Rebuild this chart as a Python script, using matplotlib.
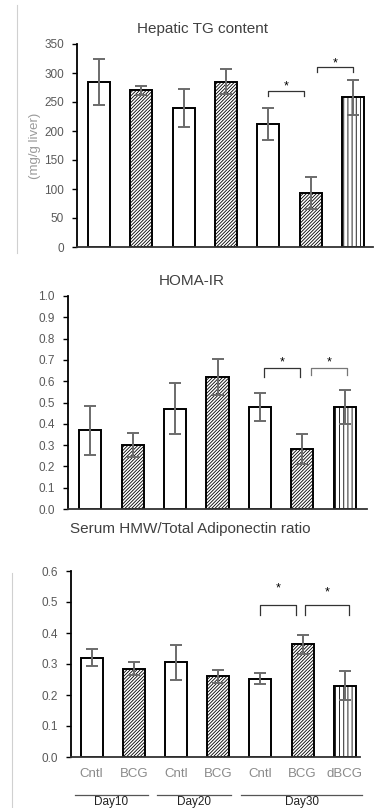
import matplotlib
matplotlib.use("Agg")
import matplotlib.pyplot as plt
from matplotlib.lines import Line2D

plt.rcParams['font.family'] = ['Liberation Sans', 'DejaVu Sans']
plt.rcParams['hatch.linewidth'] = 0.6

categories = ["Cntl", "BCG", "Cntl", "BCG", "Cntl", "BCG", "dBCG"]
groups = ["Day10", "Day20", "Day30"]
kinds = ["cntl", "bcg", "cntl", "bcg", "cntl", "bcg", "dbcg"]

tg_vals = [285, 270, 240, 285, 212, 93, 258]
tg_err = [40, 8, 33, 22, 27, 28, 30]

homa_vals = [0.37, 0.30, 0.47, 0.62, 0.48, 0.28, 0.48]
homa_err = [0.115, 0.055, 0.12, 0.085, 0.065, 0.07, 0.08]

adipo_vals = [0.32, 0.285, 0.305, 0.26, 0.252, 0.363, 0.23]
adipo_err = [0.027, 0.022, 0.055, 0.02, 0.018, 0.03, 0.047]

W, H = 374, 808
fig = plt.figure(figsize=(W / 100, H / 100), dpi=100)

def box(l, r, t, b):
    return [l / W, 1 - b / H, (r - l) / W, (b - t) / H]

hatch_map = {"cntl": None, "bcg": "//////////", "dbcg": "||||"}
tick_color = "#595959"
err_color = "#6b6b6b"

def panel(rect, vals, errs, ylim, yticks, fmt, xlim, title, title_y):
    ax = fig.add_axes(box(*rect))
    x = list(range(len(vals)))
    for i, (v, k) in enumerate(zip(vals, kinds)):
        ax.bar(i, v, width=0.52, color="white", edgecolor="black",
               linewidth=1.4, hatch=hatch_map[k], zorder=2)
    ax.errorbar(x, vals, yerr=errs, fmt="none", ecolor=err_color,
                elinewidth=1.4, capsize=4, capthick=1.4, zorder=3)
    ax.set_xlim(*xlim)
    ax.set_ylim(*ylim)
    ax.set_yticks(yticks)
    ax.set_yticklabels([fmt.format(t) for t in yticks], color=tick_color, fontsize=8.5)
    ax.set_xticks([])
    for s in ["top", "right"]:
        ax.spines[s].set_visible(False)
    ax.spines["left"].set_linewidth(1.3)
    ax.spines["bottom"].set_linewidth(1.3)
    ax.spines["bottom"].set_color("#333333")
    ax.tick_params(axis="y", length=3.5, width=1.0, direction="out", pad=6)
    fig.text(title_y[0] / W, 1 - title_y[1] / H, title, ha="center", va="center",
             fontsize=11, color="#404040")
    return ax

def bracket(ax, x0, x1, ytop, yl, yr, ystar, color="#333333"):
    ax.plot([x0, x0, x1, x1], [yl, ytop, ytop, yr], color=color, lw=0.9, zorder=4,
            clip_on=False)
    ax.text((x0 + x1) / 2, ystar, "*", ha="center", va="center", fontsize=9,
            color="black")

# Top panel
ax1 = panel((77, 373, 44, 247), tg_vals, tg_err, (0, 350),
            [0, 50, 100, 150, 200, 250, 300, 350], "{:d}", (-0.52, 6.47),
            "Hepatic TG content", (202, 29))
ax1.set_ylabel("(mg/g liver)", color="#9a9a9a", fontsize=9.5, labelpad=2)
bracket(ax1, 4.0, 4.85, 269, 260, 260, 276)
bracket(ax1, 5.15, 6.0, 310, 302, 302, 316)

# Middle panel
ax2 = panel((68, 367, 296, 509), homa_vals, homa_err, (0, 1.0),
            [0.0, 0.1, 0.2, 0.3, 0.4, 0.5, 0.6, 0.7, 0.8, 0.9, 1.0], "{:.1f}",
            (-0.52, 6.52), "HOMA-IR", (192, 281))
bracket(ax2, 4.1, 4.95, 0.66, 0.62, 0.62, 0.69)
bracket(ax2, 5.2, 6.05, 0.66, 0.63, 0.63, 0.69, color="#777777")

# Bottom panel
ax3 = panel((71, 360, 571, 757), adipo_vals, adipo_err, (0, 0.6),
            [0.0, 0.1, 0.2, 0.3, 0.4, 0.5, 0.6], "{:.1f}",
            (-0.49, 6.36), "Serum HMW/Total Adiponectin ratio", (190, 529))
bracket(ax3, 4.0, 4.85, 0.49, 0.458, 0.458, 0.545)
bracket(ax3, 5.05, 6.1, 0.49, 0.458, 0.458, 0.53)
ax3.set_xticks(range(len(categories)))
ax3.set_xticklabels(categories, color="#8a8a8a", fontsize=9.5)
ax3.tick_params(axis="x", length=0, pad=8)

# Group lines and labels
group_spans = [(75, 148), (157, 231), (241, 362)]
for (a, b), g in zip(group_spans, groups):
    fig.add_artist(Line2D([a / W, b / W], [1 - 795 / H, 1 - 795 / H],
                          color="#555555", lw=0.9))
    fig.text((a + b) / 2 / W, 1 - 807.5 / H, g, ha="center", va="bottom",
             fontsize=8.5, color="#222222")

# Light gray frame artifacts at left
fig.add_artist(Line2D([17 / W, 17 / W], [1 - 5 / H, 1 - 253 / H], color="#d0d0d0", lw=0.8))
fig.add_artist(Line2D([12 / W, 12 / W], [1 - 573 / H, 0], color="#d0d0d0", lw=0.8))

fig.savefig("out.png", dpi=100)
